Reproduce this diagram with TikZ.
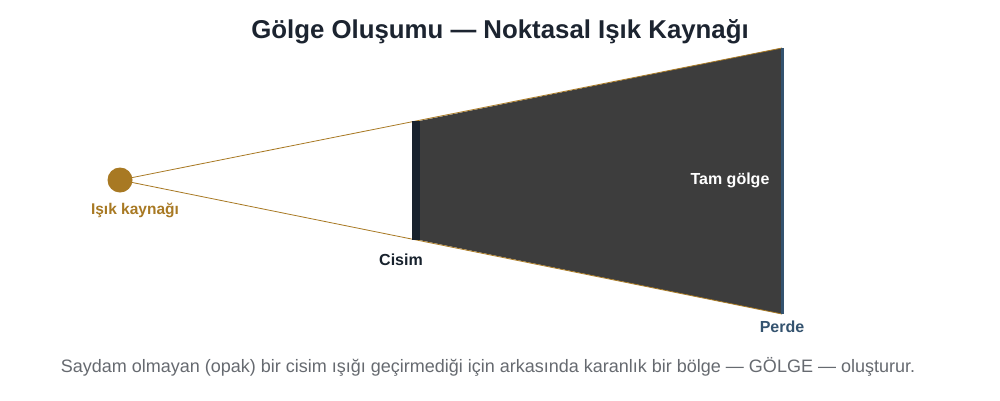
\documentclass[tikz,border=0pt]{standalone}
\usepackage{fontspec}
\setmainfont{Liberation Sans}
\definecolor{srccol}{HTML}{A87923}
\definecolor{shadowcol}{HTML}{3D3D3D}
\definecolor{objcol}{HTML}{18222D}
\definecolor{screencol}{HTML}{34536F}
\definecolor{titlecol}{HTML}{1C2430}
\definecolor{notecol}{HTML}{666A70}
\tikzset{
  lbl/.style={font=\bfseries\fontsize{16}{18}\selectfont},
  ray/.style={srccol,line width=0.8pt}
}
\begin{document}
\begin{tikzpicture}[x=1pt,y=-1pt]
        \useasboundingbox[fill=white] (0,0) rectangle (1000,400);
        \node[font=\bfseries\fontsize{25.8}{30}\selectfont,text=titlecol] (title) at (500,32) {Gölge Oluşumu — Noktasal Işık Kaynağı};

        \node[circle,fill=srccol,minimum size=25,inner sep=0] (src) at (120,180) {};
        \node[rectangle,fill=objcol,minimum width=8,minimum height=119,inner sep=0] (obj) at (416,180.5) {};
        \coordinate (scrtop) at (782,48);
        \coordinate (scrbot) at (782,314);

        % shadow behind the object
        \fill[shadowcol] (obj.north east) -- (scrtop) -- (scrbot) -- (obj.south east) -- cycle;
        \begin{scope}[ray]
            \draw (src.center) -- (scrtop);
            \draw (src.center) -- (scrbot);
        \end{scope}
        \node[rectangle,fill=objcol,minimum width=8,minimum height=119,inner sep=0] at (obj) {};
        \draw[screencol,line width=3pt] (scrtop) -- (scrbot);

        \node[lbl,text=srccol,font=\bfseries\fontsize{15.5}{18}\selectfont] (srclbl) at (135,210) {Işık kaynağı};
        \node[lbl,text=objcol] (objlbl) at (401,260) {Cisim};
        \node[lbl,text=white] (umbra) at (730,180) {Tam gölge};
        \node[lbl,text=screencol] (scrlbl) at (782,327) {Perde};

        \node[font=\fontsize{18}{21}\selectfont,text=notecol] (note) at (488,367) {Saydam olmayan (opak) bir cisim ışığı geçirmediği için arkasında karanlık bir bölge — GÖLGE — oluşturur.};
    \end{tikzpicture}
\end{document}
